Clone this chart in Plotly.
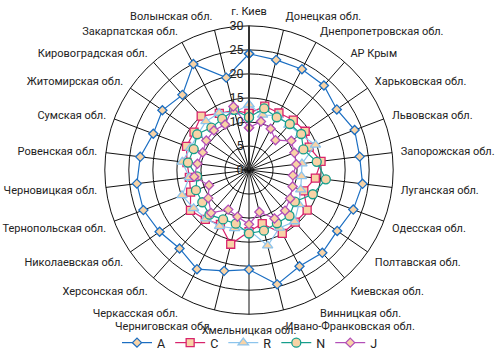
import plotly.graph_objects as go

categories = ["г. Киев", "Донецкая обл.", "Днепропетровская обл.", "АР Крым", "Харьковская обл.",
              "Львовская обл.", "Запорожская обл.", "Луганская обл.", "Одесская обл.", "Полтавская обл.",
              "Киевская обл.", "Винницкая обл.", "Ивано-Франковская обл.", "Хмельницкая обл.",
              "Черниговская обл.", "Черкасская обл.", "Херсонская обл.", "Николаевская обл.",
              "Тернопольская обл.", "Черновицкая обл.", "Ровенская обл.", "Сумская обл.",
              "Житомирская обл.", "Кировоградская обл.", "Закарпатская обл.", "Волынская обл."]

A = [24.2, 23.6, 23.7, 23.5, 22.2, 23.5, 23.2, 23.8, 23.2, 22.3, 23.0, 22.6, 24.5,
     20.7, 21.6, 23.3, 21.8, 22.6, 23.5, 23.5, 22.8, 21.3, 21.9, 20.9, 24.9, 19.8]
C = [11.8, 13.7, 13.4, 13.9, 14.2, 13.4, 15.1, 13.9, 12.2, 14.7, 14.5, 14.9, 11.5,
     12.8, 15.9, 12.8, 13.7, 14.8, 13.0, 12.5, 13.0, 13.9, 13.9, 15.0, 13.3, 12.8]
R = [13.6, 11.8, 12.8, 12.5, 13.0, 14.8, 11.1, 11.0, 11.5, 12.6, 14.3, 13.6, 16.2,
     12.5, 12.5, 13.2, 13.5, 14.0, 14.9, 12.5, 14.0, 13.0, 13.0, 13.5, 13.4, 12.4]
N = [11.0, 13.2, 12.4, 12.8, 13.2, 12.1, 14.2, 16.1, 14.2, 11.6, 12.7, 12.5, 13.0,
     13.2, 11.5, 11.6, 12.4, 11.8, 11.8, 10.9, 12.8, 12.3, 13.1, 11.8, 12.0, 12.9]
J = [8.8, 10.4, 9.7, 8.3, 10.7, 10.1, 9.9, 9.2, 9.7, 10.4, 11.3, 11.4, 9.0,
     11.3, 10.0, 9.3, 11.9, 10.3, 8.9, 11.5, 10.8, 10.3, 10.8, 11.0, 10.7, 13.6]

radial_ticks = [0, 5, 10, 15, 20, 25, 30]

series = [
    ("A", A, "#1B6EC2", "diamond", 7),
    ("C", C, "#D8246C", "square", 8),
    ("R", R, "#8CC4EC", "triangle-up", 9),
    ("N", N, "#169E8C", "circle", 9),
    ("J", J, "#B24FB8", "diamond", 7),
]

FONT = "Liberation Sans Narrow, Roboto, Arial Narrow, sans-serif"
fig = go.Figure()
for name, vals, col, sym, sz in series:
    fig.add_trace(go.Scatterpolar(
        r=vals + vals[:1], theta=categories + categories[:1], mode="lines+markers", name=name,
        line=dict(color=col, width=1.2),
        marker=dict(symbol=sym, size=sz, color="#F8D3A6", line=dict(color=col, width=1.3)),
    ))

fig.update_layout(
    width=500, height=358, margin=dict(l=0, r=0, t=0, b=0),
    paper_bgcolor="white", plot_bgcolor="white",
    font=dict(family=FONT, size=12, color="#222"),
    polar=dict(
        domain=dict(x=[104/500, 394/500], y=[(358-316)/358, (358-26)/358]),
        bgcolor="white",
        angularaxis=dict(type="category", categoryarray=categories, direction="clockwise",
                         rotation=90, showline=True, linecolor="#111", linewidth=1,
                         gridcolor="#111", gridwidth=1,
                         ticks="outside", ticklen=6, tickcolor="rgba(0,0,0,0)",
                         tickfont=dict(family=FONT, size=11, color="#222")),
        radialaxis=dict(range=[0, 30], tickvals=radial_ticks, angle=90, side="counterclockwise",
                        showline=True, linecolor="#333", linewidth=2, gridcolor="#111", gridwidth=1,
                        ticks="", tickangle=90,
                        tickfont=dict(family=FONT, size=12.5, color="#222")),
    ),
    showlegend=True,
    legend=dict(orientation="h", x=0.5, xanchor="center", y=0.036, yanchor="middle",
                font=dict(family=FONT, size=12.5, color="#222"), itemwidth=30,
                bgcolor="rgba(0,0,0,0)"),
)
fig.write_html("out.html")
